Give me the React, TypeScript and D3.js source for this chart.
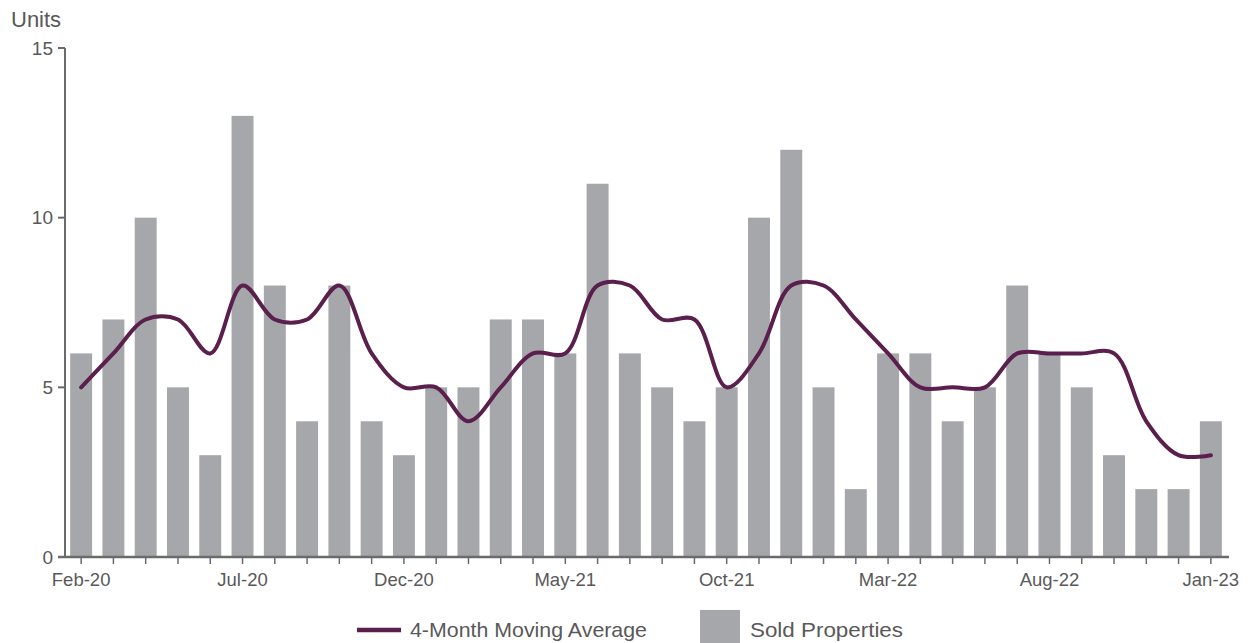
import React from "react";
import * as d3 from "d3";

const months = [
  "Feb-20","Mar-20","Apr-20","May-20","Jun-20","Jul-20","Aug-20","Sep-20","Oct-20","Nov-20","Dec-20",
  "Jan-21","Feb-21","Mar-21","Apr-21","May-21","Jun-21","Jul-21","Aug-21","Sep-21","Oct-21","Nov-21","Dec-21",
  "Jan-22","Feb-22","Mar-22","Apr-22","May-22","Jun-22","Jul-22","Aug-22","Sep-22","Oct-22","Nov-22","Dec-22",
  "Jan-23",
];
const soldProperties = [6,7,10,5,3,13,8,4,8,4,3,5,5,7,7,6,11,6,5,4,5,10,12,5,2,6,6,4,5,8,6,5,3,2,2,4];
const movingAverage = [5,6,7,7,6,8,7,7,8,6,5,5,4,5,6,6,8,8,7,7,5,6,8,8,7,6,5,5,5,6,6,6,6,4,3,3];
const yTicks = [0,5,10,15];
const labelEvery = 5;

const W = 1252, H = 643;
const left = 65, right = 1227, top = 48, bottom = 557;
const textColor = "#595959";
const axisColor = "#6b6b6b";
const barColor = "#a6a7ab";
const lineColor = "#5a1f4c";
const font = "'Liberation Sans', Arial, sans-serif";

export default function App() {
  const x = d3.scaleBand<string>().domain(months).range([left, right]).paddingInner(0.32).paddingOuter(0.16);
  const y = d3.scaleLinear().domain([0, 15]).range([bottom, top]);
  const cx = (m: string) => (x(m) as number) + x.bandwidth() / 2;
  const line = d3.line<number>()
    .x((_, i) => cx(months[i]))
    .y((d) => y(d))
    .curve(d3.curveCatmullRom.alpha(0.5));

  return (
    <svg width={W} height={H} style={{ position: "absolute", left: 0, top: 0, fontFamily: font }}>
      <rect width={W} height={H} fill="#fff" />
      <text x={11} y={27} fontSize={22} fill={textColor}>Units</text>
      {soldProperties.map((v, i) => (
        <rect key={i} x={x(months[i])} y={y(v)} width={x.bandwidth()} height={y(0) - y(v)} fill={barColor} />
      ))}
      <path d={line(movingAverage) || ""} fill="none" stroke={lineColor} strokeWidth={4} strokeLinecap="round" />
      {/* y axis */}
      <line x1={left} x2={left} y1={top} y2={bottom} stroke={axisColor} strokeWidth={2} />
      {yTicks.map((t) => (
        <g key={t}>
          <line x1={left - 7} x2={left} y1={y(t)} y2={y(t)} stroke={axisColor} strokeWidth={2} />
          <text x={left - 12} y={y(t)} dy="0.35em" textAnchor="end" fontSize={19} fill={textColor}>{t}</text>
        </g>
      ))}
      {/* x axis */}
      <line x1={left - 7} x2={right + 2} y1={bottom} y2={bottom} stroke={axisColor} strokeWidth={2.5} />
      {months.map((m, i) => (
        <g key={m}>
          <line x1={cx(m)} x2={cx(m)} y1={bottom} y2={bottom + 7} stroke={axisColor} strokeWidth={1.5} />
          {i % labelEvery === 0 && (
            <text x={cx(m)} y={bottom + 29} textAnchor="middle" fontSize={18.5} fill={textColor}>{m}</text>
          )}
        </g>
      ))}
      {/* legend */}
      <line x1={357} x2={401} y1={630} y2={630} stroke={lineColor} strokeWidth={4.5} />
      <text x={410} y={637} fontSize={21} textLength={237} lengthAdjust="spacingAndGlyphs" fill={textColor}>4-Month Moving Average</text>
      <rect x={700} y={610} width={40} height={40} fill={barColor} />
      <text x={750} y={637} fontSize={21} textLength={153} lengthAdjust="spacingAndGlyphs" fill={textColor}>Sold Properties</text>
    </svg>
  );
}
